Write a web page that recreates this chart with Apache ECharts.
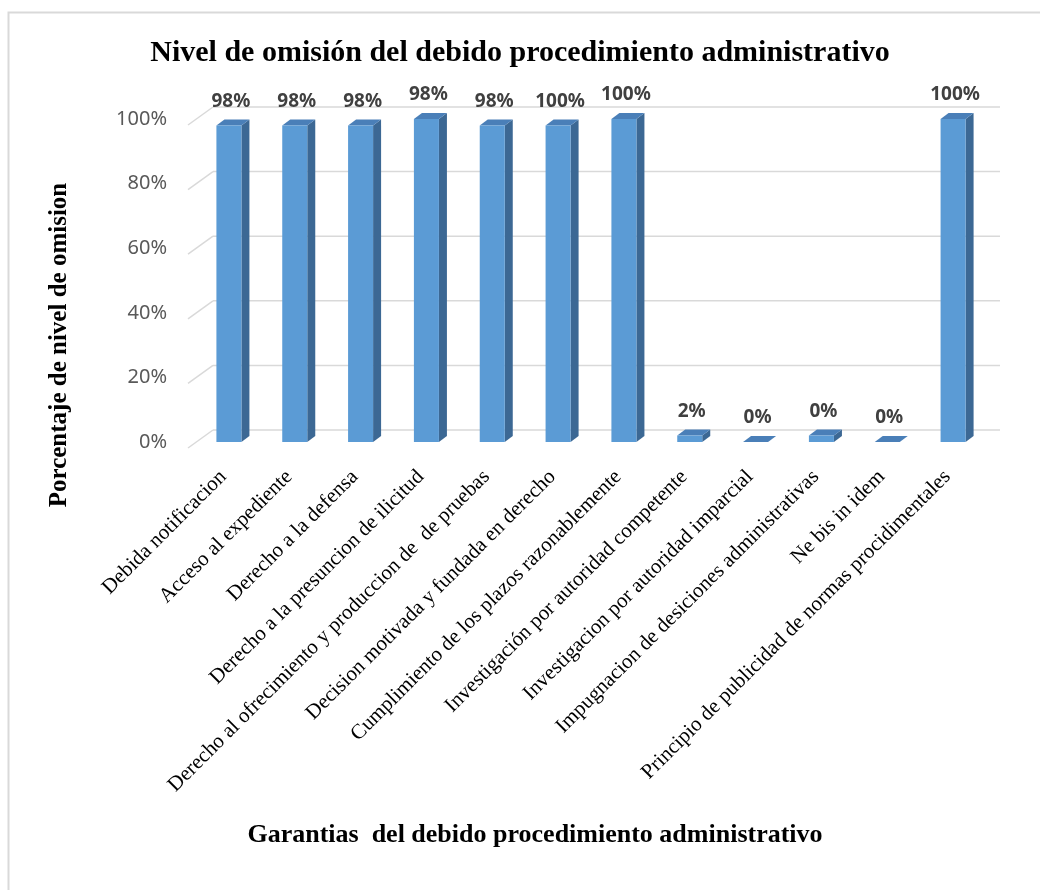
<!DOCTYPE html>
<html><head><meta charset="utf-8">
<script src="https://cdn.jsdelivr.net/npm/echarts@6/dist/echarts.min.js"></script>
<style>html,body{margin:0;padding:0;background:#fff}#c{width:1040px;height:890px}</style>
</head><body><div id="c"></div>
<script>
const categories = [
  'Debida notificacion',
  'Acceso al expediente',
  'Derecho a la defensa',
  'Derecho a la presuncion de ilicitud',
  'Derecho al ofrecimiento y produccion de  de pruebas',
  'Decision motivada y fundada en derecho',
  'Cumplimiento de los plazos razonablemente',
  'Investigación por autoridad competente',
  'Investigacion por autoridad imparcial',
  'Impugnacion de desiciones administrativas',
  'Ne bis in idem',
  'Principio de publicidad de normas procidimentales'
];
const values = [98, 98, 98, 100, 98, 98, 100, 2, 0, 2, 0, 100];
const labelTexts = ['98%', '98%', '98%', '98%', '98%', '100%', '100%', '2%', '0%', '0%', '0%', '100%'];
const yTicks = [0, 20, 40, 60, 80, 100];

const chartTitle = 'Nivel de omisión del debido procedimiento administrativo';
const xTitle = 'Garantias  del debido procedimiento administrativo';
const yTitle = 'Porcentaje de nivel de omision';

const chart = echarts.init(document.getElementById('c'));
const DX = 8, DY = 6;

chart.setOption({
  animation: false,
  backgroundColor: '#fff',
  title: {
    text: chartTitle, left: 'center', top: 33,
    textStyle: { fontFamily: 'Liberation Serif', fontWeight: 'bold', fontSize: 30, color: '#000' }
  },
  grid: { left: 196, right: 54, top: 119, bottom: 448 },
  xAxis: {
    type: 'category', data: categories,
    axisLine: { show: false }, axisTick: { show: false },
    axisLabel: {
      interval: 0, rotate: 45, margin: 26, padding: [0, 8, 0, 0],
      fontFamily: 'Liberation Serif', fontSize: 21, color: '#000'
    }
  },
  yAxis: {
    type: 'value', min: 0, max: 100, interval: 20,
    axisLine: { show: false }, axisTick: { show: false }, splitLine: { show: false },
    axisLabel: {
      formatter: '{value}%', margin: 29, padding: [14, 0, 0, 0],
      fontFamily: 'Noto Sans', fontSize: 20, color: '#595959'
    }
  },
  graphic: [
    { type: 'rect', z: -10, shape: { x: 8.5, y: 12.5, width: 1100, height: 1000 },
      style: { fill: 'none', stroke: '#d9d9d9', lineWidth: 2 } },
    { type: 'text', x: 535, y: 835,
      style: { text: xTitle, textAlign: 'center', textVerticalAlign: 'middle',
        font: 'bold 26px "Liberation Serif"', fill: '#000' } },
    { type: 'text', x: 60, y: 345, rotation: Math.PI / 2,
      style: { text: yTitle, textAlign: 'center', textVerticalAlign: 'middle',
        font: 'bold 25px "Liberation Serif"', fill: '#000' } }
  ],
  series: [
    {
      type: 'custom', z: 1, silent: true,
      data: yTicks.map(v => [0, v]),
      renderItem: function (params, api) {
        const cs = params.coordSys;
        const y = api.coord([0, api.value(1)])[1];
        const st = { stroke: '#d9d9d9', lineWidth: 1.5 };
        return { type: 'group', children: [
          { type: 'line', shape: { x1: cs.x + 17, y1: y - 12, x2: cs.x + cs.width + 14, y2: y - 12 }, style: st },
          { type: 'line', shape: { x1: cs.x - 8, y1: y + 6, x2: cs.x + 17, y2: y - 12 }, style: st }
        ] };
      }
    },
    {
      type: 'custom', z: 2,
      data: values.map((v, i) => [i, v]),
      renderItem: function (params, api) {
        const i = api.value(0), v = api.value(1);
        const base = api.coord([i, 0]);
        const top = api.coord([i, v]);
        const bw = api.size([1, 0])[0] * 0.38;
        const x0 = base[0] - bw / 2, x1 = base[0] + bw / 2;
        const yb = base[1], yt = top[1];
        return { type: 'group', children: [
          { type: 'polygon', shape: { points: [[x1, yt], [x1 + DX, yt - DY], [x1 + DX, yb - DY], [x1, yb]] },
            style: { fill: '#3c6894' } },
          { type: 'polygon', shape: { points: [[x0, yt], [x0 + DX, yt - DY], [x1 + DX, yt - DY], [x1, yt]] },
            style: { fill: '#4a7fb8' } },
          { type: 'rect', shape: { x: x0, y: yt, width: bw, height: yb - yt },
            style: { fill: '#5b9bd5' } },
          { type: 'text', x: base[0] + 2, y: yt - 24,
            style: { text: labelTexts[params.dataIndex], textAlign: 'center', textVerticalAlign: 'middle',
              font: 'bold 19px "Noto Sans"', fill: '#404040' } }
        ] };
      }
    }
  ]
});
</script>
</body></html>
